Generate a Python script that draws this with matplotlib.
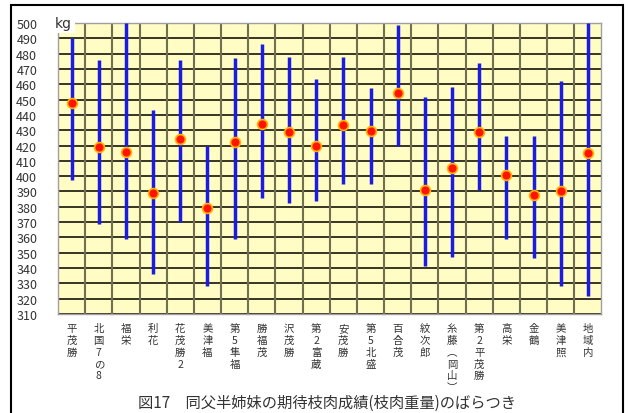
import matplotlib.pyplot as plt
from matplotlib.patches import Rectangle

plt.rcParams['font.family'] = ['Noto Sans CJK JP', 'DejaVu Sans']

# sires (half-sib groups)
names = ['平茂勝', '北国7の8', '福栄', '利花', '花茂勝2', '美津福', '第5隼福', '勝福茂',
         '沢茂勝', '第2富蔵', '安茂勝', '第5北盛', '百合茂', '紋次郎', '糸藤︵岡山︶',
         '第2平茂勝', '高栄', '金鶴', '美津照', '地域内']
# expected carcass weight (kg): mean, max, min
mean = [448, 419, 416, 389, 424, 379.5, 422.5, 434, 429, 420,
        433.5, 429.5, 454.5, 391, 405.5, 429, 400.5, 387.5, 390, 415]
high = [490, 476, 500, 443, 476, 420, 477, 486, 478, 463.5,
        478, 457.5, 499, 451.5, 458, 474, 426.5, 426.5, 462, 500]
low = [397.5, 369, 359, 336, 370, 328, 359, 386, 382.5, 383.5,
       395, 395, 420, 341.5, 347, 391, 359, 346.5, 328, 321.5]

yticks = list(range(310, 501, 10))
title = '図17　同父半姉妹の期待枝肉成績(枝肉重量)のばらつき'

fig = plt.figure(figsize=(6.28, 4.14), dpi=100)
ax = fig.add_axes([0.0924, 0.2391, 0.8654, 0.7029])
ax.set_facecolor('#fffcc4')

x = list(range(len(names)))
ax.set_xlim(-0.5, len(names) - 0.5)
ax.set_ylim(310, 500)

for v in yticks:
    ax.axhline(v, color='#262618', lw=1.3, zorder=1)
for i in range(len(names) - 1):
    ax.axvline(i + 0.5, color='#707050', lw=1.5, zorder=1)

ax.vlines(x, low, high, color='#1c1ce0', lw=2.5, zorder=3)
ax.scatter(x, mean, s=50, facecolor='#ff1400', edgecolor='#ffb000', lw=1.2, zorder=4)

ax.set_xticks([])
ax.set_yticks(yticks)
ax.set_yticklabels([str(v) for v in yticks], fontsize=9, color='#333333')
ax.tick_params(axis='y', length=0, pad=15)
for s in ax.spines.values():
    s.set_color('#a0a0a0')
    s.set_linewidth(1)

ax.text(-0.3, 500, 'kg', ha='center', va='center', fontsize=10, color='#333333', zorder=6,
        family=['DejaVu Sans'],
        bbox=dict(facecolor='white', edgecolor='none', pad=2.5))

for i, n in enumerate(names):
    ax.text(i, 304, '\n'.join(n), ha='center', va='top', fontsize=7.5,
            linespacing=1.22, color='#333333')

fig.text(0.52, 0.025, title, ha='center', va='center', fontsize=11, color='#333333')

fig.add_artist(Rectangle((11 / 628, -0.02), 612 / 628, 1.02 - 6 / 414,
                         transform=fig.transFigure, fill=False, edgecolor='black', lw=1.5))

fig.savefig('out.png', dpi=100)
